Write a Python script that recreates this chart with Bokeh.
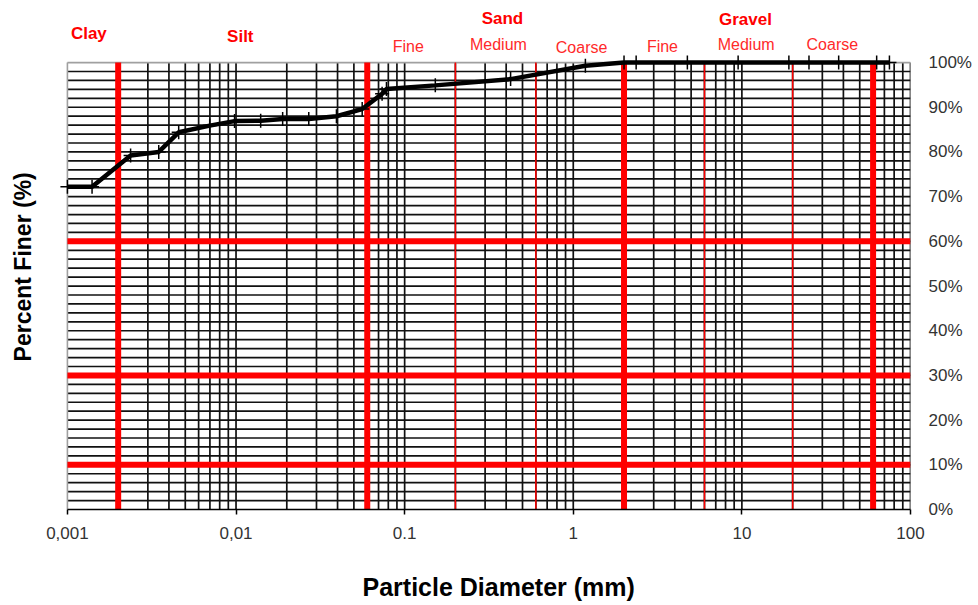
import math
from bokeh.plotting import figure
from bokeh.models import FixedTicker, Label, PrintfTickFormatter, Range1d, Title
from bokeh.embed import file_html
from bokeh.resources import INLINE

# ---------------- data ----------------
diameter_mm = [0.001, 0.0014, 0.00237, 0.00348, 0.00457, 0.00698, 0.0098, 0.0140,
               0.0189, 0.027, 0.0394, 0.056, 0.0735, 0.078, 0.152, 0.425, 1.18,
               2.0, 2.36, 4.75, 9.5, 19.0, 25.0, 37.5, 63.0, 75.0]
percent_finer = [72.2, 72.2, 79.2, 80.0, 84.4, 85.9, 86.9, 87.0,
                 87.4, 87.4, 88.0, 89.6, 93.0, 94.1, 94.9, 96.3, 99.3,
                 100, 100, 100, 100, 100, 100, 100, 100, 100]

major_bounds = [0.002, 0.06, 2, 60]          # clay/silt, silt/sand, sand/gravel, gravel/cobble
minor_bounds = [0.2, 0.6, 6, 20]             # fine/medium/coarse splits
percent_marks = [10, 30, 60]                 # D10, D30, D60

x_ticks = [0.001, 0.01, 0.1, 1, 10, 100]
x_tick_labels = ["0,001", "0,01", "0.1", "1", "10", "100"]
y_ticks = [0, 10, 20, 30, 40, 50, 60, 70, 80, 90, 100]

soil_names = ["Clay", "Silt", "Sand", "Gravel"]
soil_name_x = [0.00134, 0.0106, 0.38, 10.5]
soil_name_y = [106.6, 105.8, 109.8, 109.6]
sub_names = ["Fine", "Medium", "Coarse", "Fine", "Medium", "Coarse"]
sub_name_x = [0.105, 0.36, 1.12, 3.38, 10.6, 34.4]
sub_name_y = [103.6, 104.1, 103.4, 103.6, 104.1, 104.1]

X_MIN, X_MAX = 0.001, 100
Y_MIN, Y_MAX = 0, 100
X_LEFT, Y_TOP = 0.000401, 112.1   # view extends left/up to hold the titles

FONT = "Liberation Sans"

p = figure(x_axis_type="log", y_axis_location="right",
           x_range=Range1d(X_LEFT, X_MAX), y_range=Range1d(Y_MIN, Y_TOP),
           frame_width=910, frame_height=501,
           min_border_left=0, min_border_top=8, min_border_bottom=88, min_border_right=5,
           output_backend="svg", toolbar_location=None,
           background_fill_color="white", border_fill_color="white")

p.outline_line_color = None
p.xgrid.visible = False
p.ygrid.visible = False

# horizontal grid every 2 %
hgrid = list(range(2, 100, 2))
p.segment(x0=[X_MIN] * len(hgrid), y0=hgrid, x1=[X_MAX] * len(hgrid), y1=hgrid,
          line_color="#111111", line_width=1.7)
# vertical log grid lines
vgrid = [m * 10.0 ** e for e in range(-3, 2) for m in range(1, 10)][1:] + [X_MAX]
p.segment(x0=vgrid, y0=[Y_MIN] * len(vgrid), x1=vgrid, y1=[Y_MAX] * len(vgrid),
          line_color="#111111", line_width=1.7)
# grey plot-area border (left and top)
p.segment(x0=[X_MIN, X_MIN], y0=[Y_MIN, Y_MAX], x1=[X_MIN, X_MAX], y1=[Y_MAX, Y_MAX],
          line_color="#a0a0a0", line_width=1.6)

# x axis
xa = p.xaxis[0]
xa.bounds = (X_MIN, X_MAX)
xa.ticker = FixedTicker(ticks=x_ticks)
xa.major_label_overrides = {t: l for t, l in zip(x_ticks, x_tick_labels)}
xa.axis_line_color = "black"
xa.axis_line_width = 1.5
xa.major_tick_out = 5
xa.major_tick_in = 0
xa.major_tick_line_width = 1.5
xa.minor_tick_line_color = None
xa.major_label_text_font = FONT
xa.major_label_text_font_size = "17px"
xa.major_label_text_color = "#333333"
xa.major_label_standoff = 12

# y axis (right)
ya = p.yaxis[0]
ya.ticker = FixedTicker(ticks=y_ticks)
ya.formatter = PrintfTickFormatter(format="%d%%")
ya.axis_line_color = None
ya.major_tick_line_color = None
ya.minor_tick_line_color = None
ya.major_label_text_font = FONT
ya.major_label_text_font_size = "17px"
ya.major_label_text_color = "#333333"
ya.major_label_standoff = 12

# red boundary lines
p.segment(x0=[X_MIN] * len(percent_marks), y0=percent_marks,
          x1=[X_MAX] * len(percent_marks), y1=percent_marks,
          line_color="red", line_width=6)
p.segment(x0=minor_bounds, y0=[Y_MIN] * len(minor_bounds),
          x1=minor_bounds, y1=[Y_MAX] * len(minor_bounds),
          line_color="red", line_width=1.5)
p.segment(x0=major_bounds, y0=[Y_MIN] * len(major_bounds),
          x1=major_bounds, y1=[Y_MAX] * len(major_bounds),
          line_color="red", line_width=6)

# grading curve
p.line(diameter_mm, percent_finer, line_color="black", line_width=4.5)
p.scatter(diameter_mm, percent_finer, marker="cross", size=14,
          line_color="black", line_width=1.5)

# soil class labels
for name, x, y in zip(soil_names, soil_name_x, soil_name_y):
    p.add_layout(Label(x=x, y=y, text=name, text_align="center", text_baseline="middle",
                       text_font=FONT, text_font_style="bold", text_font_size="17px",
                       text_color="red"))
for name, x, y in zip(sub_names, sub_name_x, sub_name_y):
    p.add_layout(Label(x=x, y=y, text=name, text_align="center", text_baseline="middle",
                       text_font=FONT, text_font_size="16px", text_color="#ff2a2a"))

# axis titles
p.add_layout(Label(x=0.000548, y=54.3, text="Percent Finer (%)", angle=math.pi / 2,
                   text_align="center", text_baseline="middle", text_font=FONT,
                   text_font_style="bold", text_font_size="23px", text_color="black"))
p.add_layout(Title(text="Particle Diameter (mm)", align="left", offset=362, standoff=58,
                   text_font=FONT, text_font_style="bold", text_font_size="25px",
                   text_color="black"), "below")

open("out.html", "w").write(file_html(p, INLINE))
